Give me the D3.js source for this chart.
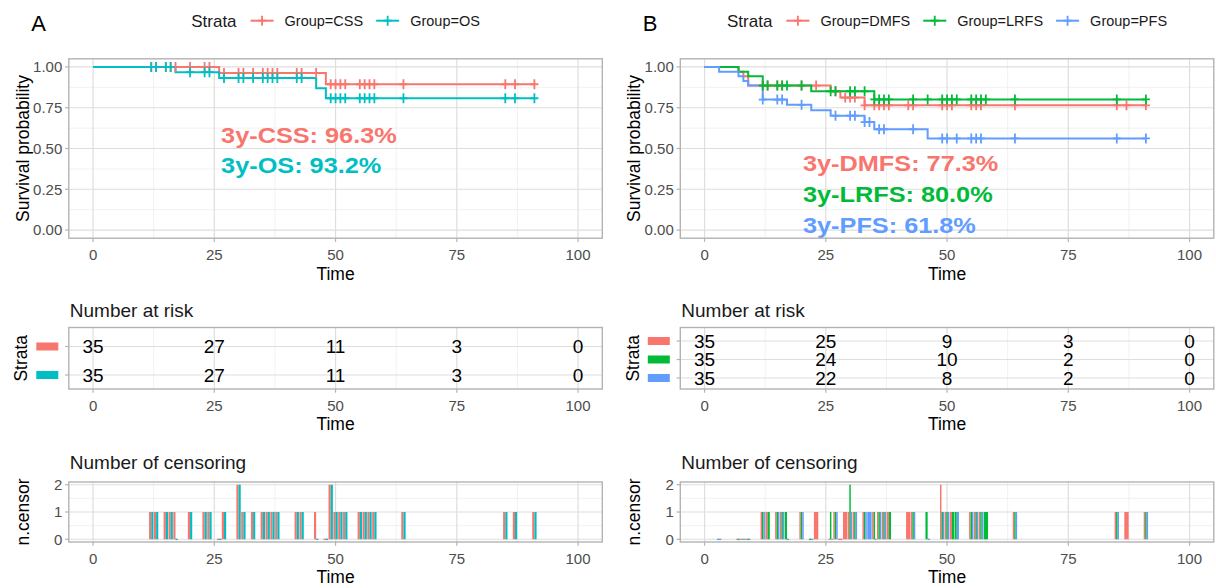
<!DOCTYPE html>
<html>
<head>
<meta charset="utf-8">
<script src="https://cdn.jsdelivr.net/npm/d3@7"></script>
<style>
body { margin: 0; background: #fff; }
svg { font-family: "Liberation Sans", Arial, sans-serif; }
</style>
</head>
<body>
<svg id="chart" width="1216" height="588"></svg>
<script>
// ---- data ----
let timeTicks = [0, 25, 50, 75, 100];
let timeMinor = [12.5, 37.5, 62.5, 87.5];
let survTicks = [0, 0.25, 0.5, 0.75, 1];
let survMinor = [0.125, 0.375, 0.625, 0.875];
let censTicks = [0, 1, 2];
let censMinor = [0.5, 1.5];

// panel A
let groupsA = ["Group=CSS", "Group=OS"];
let colorsA = ["#F8766D", "#00BFC4"];
let cssTimes = [0, 26, 48, 91];
let cssSurv = [1, 0.963, 0.894, 0.894];
let osTimes = [0, 17, 26, 46, 48, 91];
let osSurv = [1, 0.968, 0.932, 0.870, 0.808, 0.808];
let cssCensored = [12, 13, 15, 16, 17, 20, 23, 24, 27, 30, 30, 31, 33, 35, 36, 37, 38, 42, 43, 46, 49, 49, 50, 51, 52, 55, 56, 57, 58, 64, 85, 87, 91];
let osCensored = [12, 13, 15, 16, 20, 23, 24, 27, 30, 30, 31, 33, 35, 36, 37, 38, 42, 43, 49, 49, 50, 51, 52, 55, 56, 57, 58, 64, 85, 87, 91];
let riskA = [[35, 27, 11, 3, 0], [35, 27, 11, 3, 0]];
let labelsA = ["3y-CSS: 96.3%", "3y-OS: 93.2%"];

// panel B
let groupsB = ["Group=DMFS", "Group=LRFS", "Group=PFS"];
let colorsB = ["#F8766D", "#00BA38", "#619CFF"];
let dmfsTimes = [0, 7, 8, 9, 26, 28, 33, 91];
let dmfsSurv = [1, 0.971, 0.943, 0.886, 0.851, 0.812, 0.765, 0.765];
let lrfsTimes = [0, 7, 9, 12, 22, 35, 91];
let lrfsSurv = [1, 0.971, 0.943, 0.886, 0.851, 0.801, 0.801];
let pfsTimes = [0, 3, 7, 8, 9, 12, 17, 22, 26, 33, 35, 46, 91];
let pfsSurv = [1, 0.971, 0.943, 0.914, 0.886, 0.800, 0.768, 0.735, 0.701, 0.662, 0.618, 0.562, 0.562];
let dmfsCensored = [12, 13, 15, 16, 20, 23, 27, 29, 30, 31, 33, 35, 36, 37, 38, 42, 43, 49, 49, 50, 51, 55, 56, 57, 64, 85, 87, 91];
let lrfsCensored = [12, 13, 15, 16, 17, 20, 26, 27, 30, 30, 31, 33, 35, 36, 37, 38, 43, 46, 49, 50, 51, 52, 55, 56, 57, 58, 64, 85, 91];
let pfsCensored = [12, 15, 16, 20, 27, 30, 31, 33, 34, 36, 37, 43, 49, 50, 52, 55, 56, 57, 64, 85, 91];
let riskB = [[35, 25, 9, 3, 0], [35, 24, 10, 2, 0], [35, 22, 8, 2, 0]];
let labelsB = ["3y-DMFS: 77.3%", "3y-LRFS: 80.0%", "3y-PFS: 61.8%"];

// ---- layout ----
let panels = [
    { letter: "A", x0: 68.8, groups: groupsA, colors: colorsA,
      times: [cssTimes, osTimes], surv: [cssSurv, osSurv], cens: [cssCensored, osCensored],
      risk: riskA, labels: labelsA, labelT: 26.4, labelS: [0.536, 0.35], riskPad: [19, 14] },
    { letter: "B", x0: 680.3, groups: groupsB, colors: colorsB,
      times: [dmfsTimes, lrfsTimes, pfsTimes], surv: [dmfsSurv, lrfsSurv, pfsSurv],
      cens: [dmfsCensored, lrfsCensored, pfsCensored],
      risk: riskB, labels: labelsB, labelT: 20.3, labelS: [0.362, 0.174, -0.016], riskPad: [13.5, 11] }
];
let panelW = 533.5;
let survTop = 58.8, survBottom = 238.2;
let riskTop = 327.5, riskBottom = 389;
let censTop = 482, censBottom = 542;

let svg = d3.select("#chart");

function frame(g, x, y, top, bottom, xMinor, yMajor, yMinor) {
    let left = x.range()[0], right = x.range()[1];
    g.selectAll(".vminor").data(xMinor).enter().append("line")
        .attr("x1", d => x(d)).attr("x2", d => x(d))
        .attr("y1", top).attr("y2", bottom)
        .attr("stroke", "#eeeeee").attr("stroke-width", 0.8);
    g.selectAll(".hminor").data(yMinor).enter().append("line")
        .attr("x1", left).attr("x2", right)
        .attr("y1", d => y(d)).attr("y2", d => y(d))
        .attr("stroke", "#eeeeee").attr("stroke-width", 0.8);
    g.selectAll(".vmajor").data(timeTicks).enter().append("line")
        .attr("x1", d => x(d)).attr("x2", d => x(d))
        .attr("y1", top).attr("y2", bottom)
        .attr("stroke", "#dedede").attr("stroke-width", 1.2);
    g.selectAll(".hmajor").data(yMajor).enter().append("line")
        .attr("x1", left).attr("x2", right)
        .attr("y1", d => y(d)).attr("y2", d => y(d))
        .attr("stroke", "#dedede").attr("stroke-width", 1.2);
    // x ticks + labels
    g.selectAll(".xtick").data(timeTicks).enter().append("line")
        .attr("x1", d => x(d)).attr("x2", d => x(d))
        .attr("y1", bottom).attr("y2", bottom + 3.7)
        .attr("stroke", "#b3b3b3").attr("stroke-width", 1.2);
    g.selectAll(".xlab").data(timeTicks).enter().append("text")
        .attr("x", d => x(d)).attr("y", bottom + 21.5)
        .attr("text-anchor", "middle").attr("font-size", 15).attr("fill", "#4d4d4d")
        .text(d => d);
    g.append("text")
        .attr("x", (left + right) / 2).attr("y", bottom + 41.3)
        .attr("text-anchor", "middle").attr("font-size", 17.5).attr("fill", "#000")
        .text("Time");
    // y ticks
    g.selectAll(".ytick").data(yMajor).enter().append("line")
        .attr("x1", left - 3.7).attr("x2", left)
        .attr("y1", d => y(d)).attr("y2", d => y(d))
        .attr("stroke", "#b3b3b3").attr("stroke-width", 1.2);
}

function border(g, x, top, bottom) {
    let left = x.range()[0], right = x.range()[1];
    g.append("rect")
        .attr("x", left).attr("y", top)
        .attr("width", right - left).attr("height", bottom - top)
        .attr("fill", "none").attr("stroke", "#b3b3b3").attr("stroke-width", 1.4);
}

function survAt(times, surv, t) {
    let v = surv[0];
    times.forEach((tt, i) => { if (tt <= t) v = surv[i]; });
    return v;
}

function drawPanel(p) {
    let g = svg.append("g");
    let x = d3.scaleLinear().domain([-5, 105]).range([p.x0, p.x0 + panelW]);
    let cx = p.x0 + panelW / 2;

    // letter
    g.append("text").attr("x", p.x0 - 37.5).attr("y", 31)
        .attr("font-size", 22).attr("fill", "#000").text(p.letter);

    // legend, centred over the panel
    let leg = g.append("g");
    let cursor = 0;
    let strata = leg.append("text").attr("x", 0).attr("y", 26.5)
        .attr("font-size", 17).attr("fill", "#1a1a1a").text("Strata");
    cursor = strata.node().getComputedTextLength() + 14;
    p.groups.forEach((name, i) => {
        let k = leg.append("g").attr("transform", `translate(${cursor}, 20.7)`);
        k.append("line").attr("x1", 0).attr("x2", 23).attr("y1", 0).attr("y2", 0)
            .attr("stroke", p.colors[i]).attr("stroke-width", 2);
        k.append("path").attr("d", "M7.5,0H15.5M11.5,-5V5")
            .attr("stroke", p.colors[i]).attr("stroke-width", 1.8);
        cursor += 23 + 11;
        let t = leg.append("text").attr("x", cursor).attr("y", 26.3)
            .attr("font-size", 14.5).attr("fill", "#1a1a1a").text(name);
        cursor += t.node().getComputedTextLength() + 13;
    });
    let legW = cursor - 13;
    leg.attr("transform", `translate(${cx - legW / 2}, 0)`);

    // ---- survival plot ----
    let yS = d3.scaleLinear().domain([-0.05, 1.05]).range([survBottom, survTop]);
    let sg = g.append("g");
    frame(sg, x, yS, survTop, survBottom, timeMinor, survTicks, survMinor);
    sg.selectAll(".ylab").data(survTicks).enter().append("text")
        .attr("x", p.x0 - 6.5).attr("y", d => yS(d) + 5.4)
        .attr("text-anchor", "end").attr("font-size", 15).attr("fill", "#4d4d4d")
        .text(d3.format(".2f"));
    sg.append("text")
        .attr("transform", `translate(${p.x0 - 40.3}, ${(survTop + survBottom) / 2}) rotate(-90)`)
        .attr("text-anchor", "middle").attr("font-size", 17.5).attr("fill", "#000")
        .text("Survival probability");

    let line = d3.line().x(d => x(d[0])).y(d => yS(d[1])).curve(d3.curveStepAfter);
    p.groups.forEach((name, i) => {
        sg.append("path")
            .datum(p.times[i].map((t, j) => [t, p.surv[i][j]]))
            .attr("d", line)
            .attr("fill", "none").attr("stroke", p.colors[i]).attr("stroke-width", 2);
    });
    p.groups.forEach((name, i) => {
        let uniq = Array.from(new Set(p.cens[i]));
        sg.selectAll(".cross" + i).data(uniq).enter().append("path")
            .attr("transform", d => `translate(${x(d)}, ${yS(survAt(p.times[i], p.surv[i], d))})`)
            .attr("d", "M-4,0H4M0,-5V5")
            .attr("stroke", p.colors[i]).attr("stroke-width", 1.8).attr("fill", "none");
    });
    p.labels.forEach((lab, i) => {
        sg.append("text")
            .attr("transform", `translate(${x(p.labelT)}, ${yS(p.labelS[i])}) scale(1.15, 1)`)
            .attr("font-size", 22).attr("font-weight", "bold").attr("fill", p.colors[i])
            .text(lab);
    });
    border(sg, x, survTop, survBottom);

    // ---- risk table ----
    let rg = g.append("g");
    let yR = d3.scalePoint().domain(d3.range(p.groups.length))
        .range([riskTop + p.riskPad[0], riskBottom - p.riskPad[1]]);
    rg.append("text").attr("x", p.x0 + 1).attr("y", 317.3)
        .attr("font-size", 19).attr("fill", "#1a1a1a").text("Number at risk");
    frame(rg, x, yR, riskTop, riskBottom, timeMinor, d3.range(p.groups.length), []);
    rg.selectAll(".key").data(p.groups).enter().append("rect")
        .attr("x", p.x0 - 32.5).attr("y", (d, i) => yR(i) - 4)
        .attr("width", 22).attr("height", 8)
        .attr("fill", (d, i) => p.colors[i]);
    rg.append("text")
        .attr("transform", `translate(${p.x0 - 41.5}, ${(riskTop + riskBottom) / 2}) rotate(-90)`)
        .attr("text-anchor", "middle").attr("font-size", 17.5).attr("fill", "#000")
        .text("Strata");
    p.risk.forEach((row, i) => {
        rg.selectAll(".risk" + i).data(row).enter().append("text")
            .attr("x", (d, j) => x(timeTicks[j])).attr("y", yR(i) + 6.8)
            .attr("text-anchor", "middle").attr("font-size", 19).attr("fill", "#000")
            .text(d => d);
    });
    border(rg, x, riskTop, riskBottom);

    // ---- number of censoring ----
    let cg = g.append("g");
    let yC = d3.scaleLinear().domain([-0.1, 2.1]).range([censBottom, censTop]);
    cg.append("text").attr("x", p.x0 + 1).attr("y", 469)
        .attr("font-size", 19).attr("fill", "#1a1a1a").text("Number of censoring");
    frame(cg, x, yC, censTop, censBottom, timeMinor, censTicks, censMinor);
    cg.selectAll(".ylab").data(censTicks).enter().append("text")
        .attr("x", p.x0 - 6.5).attr("y", d => yC(d) + 5.4)
        .attr("text-anchor", "end").attr("font-size", 15).attr("fill", "#4d4d4d")
        .text(d => d);
    cg.append("text")
        .attr("transform", `translate(${p.x0 - 40.3}, ${(censTop + censBottom) / 2}) rotate(-90)`)
        .attr("text-anchor", "middle").attr("font-size", 17.5).attr("fill", "#000")
        .text("n.censor");

    // rows per group: censored counts, plus event times with zero
    let rows = [];
    p.groups.forEach((name, i) => {
        let counts = d3.rollup(p.cens[i], v => v.length, d => d);
        p.times[i].forEach((t, j) => {
            if (j > 0 && p.surv[i][j] < p.surv[i][j - 1] && !counts.has(t)) counts.set(t, 0);
        });
        counts.forEach((n, t) => rows.push({ t: t, n: n, g: i }));
    });
    let byTime = d3.group(rows, d => d.t);
    let bars = [];
    byTime.forEach((list, t) => {
        list.sort((a, b) => a.g - b.g);
        let w = 0.9 / list.length;
        list.forEach((d, k) => bars.push({ a: t - 0.45 + k * w, b: t - 0.45 + (k + 1) * w, n: d.n, g: d.g }));
    });
    cg.selectAll(".bar").data(bars).enter().append("rect")
        .attr("x", d => x(d.a)).attr("width", d => x(d.b) - x(d.a))
        .attr("y", d => d.n > 0 ? yC(d.n) : yC(0) - 0.6)
        .attr("height", d => d.n > 0 ? yC(0) - yC(d.n) : 1.4)
        .attr("fill", d => p.colors[d.g]);
    border(cg, x, censTop, censBottom);
}

panels.forEach(drawPanel);
</script>
</body>
</html>
